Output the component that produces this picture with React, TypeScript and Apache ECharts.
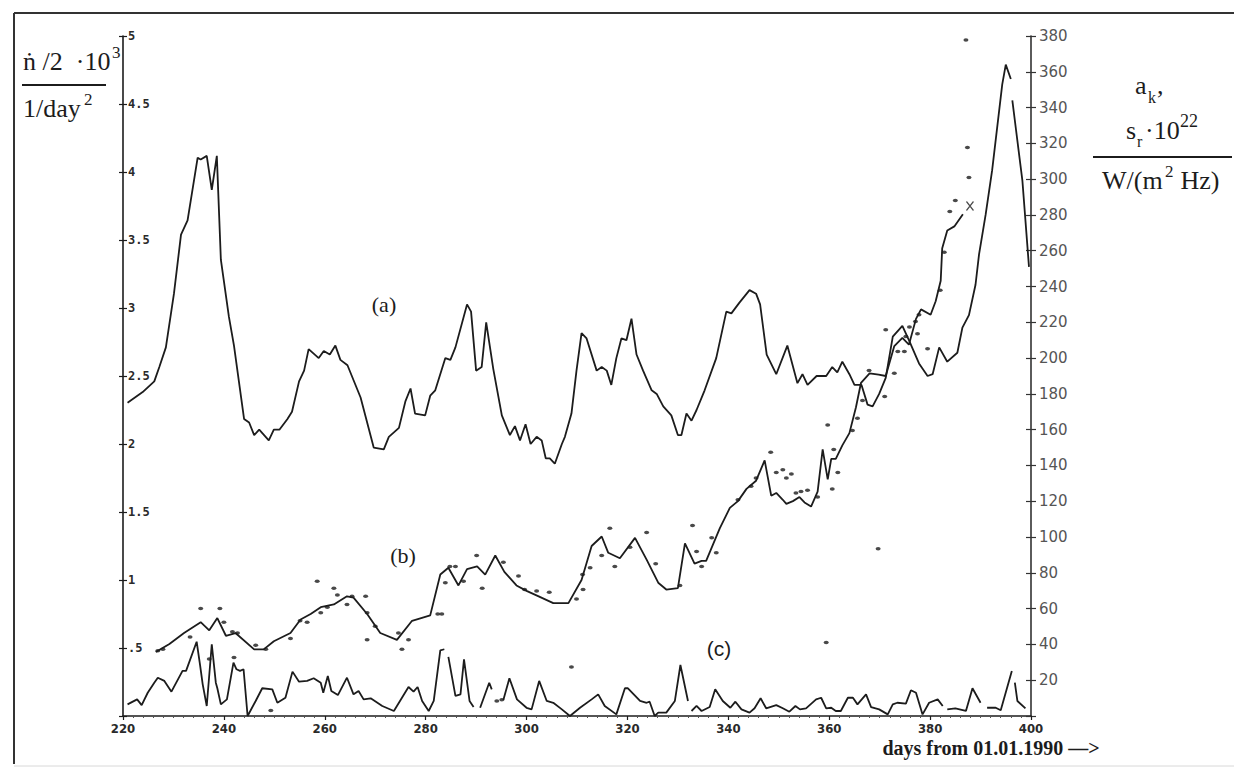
import React, { useEffect, useRef } from "react";
import * as echarts from "echarts";

// ---------- DATA ----------
const xTicks = [220, 240, 260, 280, 300, 320, 340, 360, 380, 400];

// (a) s_r (right axis), [day, value]
const seriesA: any[] = [
  [220.9, 175], [223.9, 181], [226.2, 187], [227.2, 195], [228.5, 206], [230.1, 236], [231.5, 269],
  [232.8, 277], [234.8, 312], [235.4, 311], [236.6, 313], [237.6, 294], [238.6, 313], [239.4, 255],
  [241.0, 223], [242.0, 207], [244.0, 166], [245.0, 164], [246.0, 157], [247.0, 160], [248.9, 154],
  [249.9, 160], [251.0, 160], [252.6, 166], [253.5, 170], [254.9, 187], [255.9, 193], [256.8, 205],
  [258.8, 200], [259.8, 204], [261.0, 202], [262.1, 207], [263.1, 199], [264.5, 196], [267.1, 178],
  [269.7, 150], [271.7, 149], [272.7, 156], [274.7, 161], [276.0, 176], [277.0, 183], [277.9, 169],
  [279.9, 168], [280.9, 179], [281.9, 182], [283.9, 200], [284.9, 199], [285.9, 206], [288.2, 230],
  [289.0, 226], [290.0, 193], [291.1, 195], [292.0, 220], [293.4, 194], [295.1, 168], [296.7, 157],
  [297.7, 162], [298.7, 154], [299.8, 163], [300.8, 152], [302.0, 156], [303.0, 154], [303.8, 144],
  [304.6, 144], [305.6, 141], [307.0, 152], [307.6, 156], [308.9, 169], [309.9, 193], [310.9, 214],
  [311.9, 211], [313.9, 193], [314.9, 195], [315.9, 193], [316.8, 185], [317.8, 200], [318.8, 211],
  [319.8, 210], [320.8, 222], [321.8, 202], [323.1, 193], [324.8, 182], [325.8, 180], [327.1, 173],
  [328.7, 168], [330.0, 157], [330.7, 157], [331.7, 169], [332.7, 165], [333.7, 171], [335.3, 182],
  [337.6, 200], [339.6, 226], [340.6, 225], [342.2, 231], [344.2, 238], [345.5, 236], [346.3, 230],
  [347.6, 202], [349.5, 191], [351.7, 207], [353.7, 186], [354.7, 191], [355.7, 185], [357.5, 190],
  [359.4, 190], [360.6, 195], [361.6, 192], [362.6, 198], [364.0, 191], [365.0, 185], [366.4, 185],
  [367.6, 174], [368.6, 173], [369.9, 180], [371.2, 189], [372.6, 212], [374.5, 218], [375.8, 210],
  [377.8, 197], [379.5, 190], [380.5, 191], [381.8, 206], [383.4, 198], [385.4, 203], [386.4, 217],
  [387.7, 224], [389.0, 241], [389.7, 258], [391.0, 280], [392.3, 305], [394.3, 353], [395.0, 364],
  [396.0, 356], [396.1, "-"], [396.3, 344], [398.3, 299], [399.6, 251],
];

// (b) line, n-dot/2 (left axis)
const seriesBLine: any[] = [
  [226.5, 0.47], [229.2, 0.53], [232.1, 0.61], [235.4, 0.69], [237.1, 0.63], [238.7, 0.72], [240.4, 0.59],
  [242.3, 0.61], [246.0, 0.49], [247.9, 0.49], [249.9, 0.55], [253.2, 0.61], [255.2, 0.71], [257.2, 0.75],
  [259.2, 0.80], [261.8, 0.82], [264.4, 0.88], [265.7, 0.87], [268.4, 0.75], [271.0, 0.61], [274.3, 0.56],
  [277.3, 0.70], [280.9, 0.74], [282.9, 1.04], [284.5, 1.09], [286.5, 0.96], [288.2, 1.08], [290.2, 1.10],
  [291.8, 1.04], [293.8, 1.18], [295.6, 1.06], [298.0, 0.96], [300.0, 0.92], [302.4, 0.88], [305.3, 0.83],
  [308.3, 0.83], [310.9, 1.00], [312.9, 1.25], [314.9, 1.32], [316.2, 1.20], [318.5, 1.16], [321.5, 1.31],
  [323.8, 1.15], [326.1, 0.98], [327.7, 0.93], [330.0, 0.94], [331.4, 1.27], [333.3, 1.12], [334.7, 1.14],
  [335.6, 1.14], [338.3, 1.38], [340.3, 1.53], [341.9, 1.58], [343.6, 1.67], [345.5, 1.73], [347.2, 1.88],
  [348.5, 1.62], [349.5, 1.64], [350.8, 1.59], [351.5, 1.56], [352.8, 1.58], [354.1, 1.61], [355.1, 1.57],
  [356.4, 1.54], [357.7, 1.65], [358.7, 1.96], [359.7, 1.74], [360.4, 1.89], [361.3, 1.89], [362.6, 1.99],
  [364.0, 2.08], [365.3, 2.27], [366.3, 2.45], [368.0, 2.52], [369.8, 2.51], [371.2, 2.50], [372.9, 2.72],
  [374.5, 2.78], [375.8, 2.73], [377.2, 2.92], [378.2, 2.99], [380.1, 2.95], [381.1, 3.05], [382.1, 3.20],
  [382.4, 3.44], [383.4, 3.57], [384.8, 3.60], [386.5, 3.69],
];

// (b) observed points (left axis)
const seriesBDots: any[] = [
  [226.9, 0.48], [227.9, 0.49], [233.3, 0.58], [235.4, 0.79], [239.2, 0.79], [240.0, 0.69], [241.7, 0.62],
  [242.7, 0.61], [242.0, 0.43], [237.1, 0.42], [246.3, 0.52], [248.3, 0.49], [253.2, 0.57], [255.1, 0.70],
  [256.5, 0.69], [258.5, 0.99], [259.2, 0.76], [260.5, 0.80], [261.8, 0.94], [262.5, 0.89], [264.4, 0.82],
  [265.4, 0.88], [268.1, 0.88], [268.4, 0.76], [268.4, 0.56], [270.0, 0.66], [274.6, 0.61], [275.3, 0.49],
  [276.6, 0.56], [282.4, 0.75], [283.2, 0.75], [283.9, 0.98], [284.8, 1.10], [285.9, 1.10], [287.5, 0.99],
  [290.1, 1.18], [291.2, 0.94], [295.4, 1.13], [298.4, 1.03], [299.6, 0.93], [302.0, 0.92], [304.5, 0.91],
  [309.9, 0.86], [311.2, 0.93], [311.1, 1.04], [312.6, 1.09], [314.9, 1.18], [316.5, 1.38], [317.5, 1.10],
  [320.5, 1.24], [323.8, 1.35], [325.6, 1.12], [330.4, 0.96], [332.9, 1.40], [333.7, 1.21], [334.7, 1.10],
  [336.7, 1.31], [337.6, 1.20], [341.9, 1.59], [344.5, 1.69], [345.5, 1.75], [348.4, 1.94], [349.5, 1.79],
  [350.8, 1.81], [351.5, 1.75], [352.5, 1.78], [353.4, 1.64], [354.4, 1.65], [355.7, 1.66], [357.7, 1.61],
  [359.7, 2.14], [360.6, 1.67], [360.9, 1.96], [361.7, 1.79], [364.6, 2.10], [365.6, 2.19], [366.6, 2.32],
  [367.9, 2.54], [371.0, 2.35], [371.2, 2.84], [372.9, 2.52], [373.6, 2.68], [374.9, 2.68], [375.2, 2.79],
  [375.9, 2.86], [377.1, 2.90], [377.5, 2.81], [377.8, 2.95], [379.5, 2.70], [382.0, 3.13], [382.8, 3.41],
  [383.9, 3.71], [385.0, 3.79], [387.1, 4.97], [387.4, 4.18], [387.7, 3.96],
  [369.7, 1.23], [359.4, 0.54], [308.9, 0.36], [249.3, 0.04], [294.1, 0.11], [295.1, 0.12],
];

// last (b) point marked with an "x"
const seriesBEnd: any[] = [[387.9, 3.75]];

// (c) a_k (right axis)
const seriesC: any[] = [
  [220.9, 6.5], [222.8, 9.3], [223.7, 6.1], [224.9, 13.0], [226.2, 18.6], [226.9, 21.4], [228.2, 19.6],
  [229.6, 13.6], [231.8, 25.2], [232.5, 25.2], [234.6, 41.5], [235.3, 28.0], [235.8, 17.7], [236.6, 5.6],
  [237.6, 40.1], [238.4, 18.6], [238.7, 15.5], [239.4, 6.5], [240.6, 9.3], [241.9, 29.8], [242.5, 26.1],
  [243.2, 25.2], [243.9, 26.1], [244.7, 0], [246.3, 8.4], [247.6, 15.5], [249.6, 14.9], [250.6, 7.4],
  [252.2, 10.2], [253.6, 24.8], [254.9, 19.2], [256.5, 19.6], [257.8, 21.1], [259.2, 18.6], [259.7, 13.0],
  [260.6, 22.4], [261.3, 14.0], [262.6, 11.7], [264.4, 21.4], [265.7, 12.1], [266.7, 14.0], [267.7, 9.3],
  [269.1, 9.9], [271.4, 5.6], [273.7, 2.8], [275.3, 10.2], [276.6, 16.2], [277.6, 13.6], [278.4, 16.2],
  [279.3, 8.4], [280.6, 2.8], [281.6, 8.4], [282.9, 36.7], [283.7, 37.3], [284.1, "-"], [284.5, 33.0],
  [285.9, 11.2], [286.9, 12.1], [287.6, 31.7], [288.7, 8.4], [289.5, 5.0], [290.1, "-"], [290.8, 4.6],
  [292.6, 18.6], [293.1, 14.9], [294.2, "-"], [295.4, 8.9], [296.6, 21.1], [298.1, 9.3], [300.0, 4.6],
  [301.0, 3.7], [302.5, 19.6], [304.0, 8.4], [305.3, 7.4], [307.0, 3.7], [308.6, 0], [310.6, 4.6],
  [312.9, 9.3], [314.2, 12.1], [315.5, 5.6], [317.8, 0.9], [319.5, 15.5], [320.1, 15.5], [322.5, 8.4],
  [323.8, 7.4], [324.4, 8.0], [325.4, 0], [326.1, 1.9], [327.7, 1.9], [329.4, 8.4], [330.5, 28.5],
  [332.0, 8.4], [332.3, "-"], [332.7, 2.8], [333.7, 5.6], [334.7, 2.8], [336.3, 5.0], [337.4, 14.9],
  [338.9, 8.4], [340.4, 4.6], [341.4, 8.0], [342.6, 3.7], [344.2, 1.9], [345.2, 4.3], [346.4, 9.9],
  [347.5, 4.3], [349.5, 6.1], [350.8, 4.3], [352.1, 2.4], [353.3, 5.6], [354.2, 3.7], [355.4, 4.3],
  [357.4, 9.3], [358.4, 10.2], [359.4, 4.3], [360.4, 4.6], [361.3, 2.8], [362.3, 2.8], [363.7, 10.2],
  [364.7, 10.2], [365.6, 6.5], [367.3, 12.1], [368.3, 5.0], [369.9, 3.7], [371.6, 0.9], [372.6, 6.5],
  [373.5, 7.4], [375.2, 6.9], [376.2, 14.4], [377.2, 13.0], [378.5, 0.9], [379.8, 7.4], [381.5, 9.3],
  [382.5, 5.6], [382.9, "-"], [383.4, 3.7], [385.0, 4.3], [387.1, 2.8], [388.4, 15.5], [390.0, 7.4],
  [390.6, "-"], [391.3, 4.6], [393.0, 4.6], [394.0, 3.2], [396.2, 25.2], [396.5, "-"], [396.8, 18.6],
  [397.3, 8.4], [398.9, 4.3],
];

const INK = "#1c1c1c";
const SERIF = '"Liberation Serif", "DejaVu Serif", serif';

export default function App() {
  const ref = useRef<HTMLDivElement>(null);

  useEffect(() => {
    if (!ref.current) return;
    const chart = echarts.init(ref.current, undefined, { renderer: "svg" });

    const txt = (text: string, x: number, y: number, size: number, opts: any = {}) => ({
      type: "text",
      x,
      y,
      style: {
        text,
        fill: INK,
        font: `${opts.weight || "normal"} ${size}px ${opts.family || SERIF}`,
        align: opts.align || "left",
        verticalAlign: "middle",
      },
    });

    const option: any = {
      animation: false,
      backgroundColor: "#ffffff",
      grid: { left: 123, right: 203, top: 36, bottom: 53, containLabel: false },
      xAxis: [
        {
          type: "value",
          min: 220,
          max: 400,
          interval: 20,
          axisLine: { show: true, onZero: false, lineStyle: { color: INK, width: 1.6 } },
          axisTick: { show: true, length: 4, lineStyle: { color: INK, width: 1.2 } },
          minorTick: { show: true, splitNumber: 10, length: 2, lineStyle: { color: "#555" } },
          splitLine: { show: false },
          axisLabel: {
            color: "#2a2a2a",
            fontSize: 13,
            fontWeight: "bold",
            fontFamily: '"Liberation Sans Narrow", "DejaVu Sans Condensed", "DejaVu Sans", sans-serif',
            margin: 6,
            formatter: (v: number) => (xTicks.includes(v) ? String(v) : ""),
          },
        },
      ],
      yAxis: [
        {
          type: "value",
          position: "left",
          min: 0,
          max: 5,
          interval: 0.5,
          axisLine: { show: true, onZero: false, lineStyle: { color: INK, width: 1.6 } },
          axisTick: { show: true, length: 4, lineStyle: { color: INK, width: 1.2 } },
          splitLine: { show: false },
          axisLabel: {
            inside: true,
            margin: 5,
            color: "#2a2a2a",
            fontSize: 12,
            fontWeight: "bold",
            fontFamily: '"DejaVu Sans Mono", monospace',
            formatter: (v: number) => (v === 0 ? "" : v === 0.5 ? ".5" : String(v)),
          },
        },
        {
          type: "value",
          position: "right",
          min: 0,
          max: 380,
          interval: 20,
          axisLine: { show: true, onZero: false, lineStyle: { color: "#333", width: 1.6 } },
          axisTick: { show: true, length: 5, lineStyle: { color: "#333", width: 1.2 } },
          splitLine: { show: false },
          axisLabel: {
            margin: 8,
            color: "#555",
            fontSize: 15,
            fontFamily: '"DejaVu Sans", sans-serif',
            formatter: (v: number) => (v === 0 ? "" : String(v)),
          },
        },
        {
          type: "value",
          position: "left",
          min: 0,
          max: 5,
          interval: 0.5,
          axisLine: { show: false },
          axisTick: { show: true, inside: true, length: 4, lineStyle: { color: INK, width: 1.2 } },
          axisLabel: { show: false },
          splitLine: { show: false },
        },
        {
          type: "value",
          position: "right",
          min: 0,
          max: 380,
          interval: 20,
          axisLine: { show: false },
          axisTick: { show: true, inside: true, length: 5, lineStyle: { color: "#333", width: 1.2 } },
          axisLabel: { show: false },
          splitLine: { show: false },
        },
      ],
      series: [
        {
          name: "a",
          type: "line",
          yAxisIndex: 1,
          data: seriesA,
          showSymbol: false,
          connectNulls: false,
          lineStyle: { color: INK, width: 1.8 },
        },
        {
          name: "b-line",
          type: "line",
          yAxisIndex: 0,
          data: seriesBLine,
          showSymbol: false,
          lineStyle: { color: INK, width: 1.8 },
        },
        {
          name: "b-dots",
          type: "scatter",
          yAxisIndex: 0,
          data: seriesBDots,
          symbol: "path://M0 3a4 3 0 1 0 8 0a4 3 0 1 0 -8 0z",
          symbolSize: [5, 3.5],
          itemStyle: { color: INK },
        },
        {
          name: "b-end",
          type: "scatter",
          yAxisIndex: 0,
          data: seriesBEnd,
          symbol: "path://M0 0L10 12M10 0L0 12",
          symbolSize: [7, 9],
          itemStyle: { color: "none", borderColor: INK, borderWidth: 1.4 },
        },
        {
          name: "c",
          type: "line",
          yAxisIndex: 1,
          data: seriesC,
          showSymbol: false,
          connectNulls: false,
          lineStyle: { color: INK, width: 1.8 },
        },
      ],
      graphic: [
        { type: "line", shape: { x1: 14, y1: 13, x2: 1234, y2: 13 }, style: { stroke: "#333", lineWidth: 2 } },
        { type: "line", shape: { x1: 14, y1: 13, x2: 14, y2: 764 }, style: { stroke: "#333", lineWidth: 2 } },
        { type: "line", shape: { x1: 14, y1: 766, x2: 1234, y2: 766 }, style: { stroke: "#d8d8d8", lineWidth: 1 } },
        // left title
        txt("ṅ /2  ·10", 23, 61, 26),
        txt("3", 112, 52, 17),
        { type: "line", shape: { x1: 22, y1: 85, x2: 106, y2: 85 }, style: { stroke: INK, lineWidth: 2 } },
        txt("1/day", 23, 108, 26),
        txt("2", 84, 99, 17),
        // right title
        txt("a", 1135, 85, 26),
        txt("k", 1148, 97, 16),
        txt(",", 1157, 85, 26),
        txt("s", 1126, 130, 26),
        txt("r", 1137, 141, 16),
        txt("·10", 1145, 130, 26),
        txt("22", 1180, 121, 18),
        { type: "line", shape: { x1: 1093, y1: 157, x2: 1232, y2: 157 }, style: { stroke: INK, lineWidth: 2 } },
        txt("W/(m", 1102, 180, 26),
        txt("2", 1165, 171, 17),
        txt(" Hz)", 1174, 180, 26),
        // curve labels
        txt("(a)", 384, 304, 22, { align: "center" }),
        txt("(b)", 403, 555, 22, { align: "center" }),
        txt("(c)", 719, 648, 21, { align: "center", family: '"Liberation Sans", Arial, sans-serif' }),
        txt("days from 01.01.1990 —>", 991, 748, 20, { align: "center", weight: "bold" }),
      ],
    };

    chart.setOption(option);
    return () => chart.dispose();
  }, []);

  return (
    <div
      ref={ref}
      style={{ position: "fixed", left: 0, top: 0, width: 1234, height: 769, background: "#fff" }}
    />
  );
}
